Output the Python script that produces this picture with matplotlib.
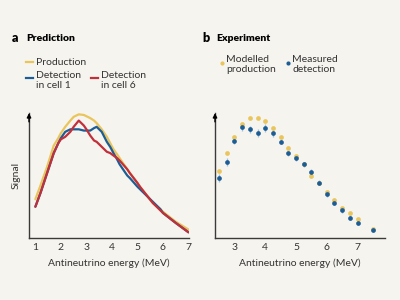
import matplotlib.pyplot as plt

# panel a: predicted spectra
energy_a = [1.0, 1.2, 1.46, 1.72, 1.9, 2.0, 2.17, 2.37, 2.5, 2.7, 2.9, 3.0, 3.15, 3.3, 3.4, 3.6,
            3.8, 3.93, 4.06, 4.2, 4.3, 4.6, 4.7, 5.0, 5.1, 5.6, 5.9, 6.0, 6.5, 7.0]
production = [0.31, 0.42, 0.57, 0.74, 0.80, 0.84, 0.89, 0.94, 0.97, 0.99, 0.985, 0.975, 0.96, 0.94,
              0.92, 0.87, 0.81, 0.76, 0.71, 0.67, 0.64, 0.55, 0.52, 0.44, 0.41, 0.28, 0.23, 0.21, 0.13, 0.067]
cell1 = [0.25, 0.36, 0.52, 0.68, 0.76, 0.80, 0.85, 0.87, 0.87, 0.87, 0.86, 0.86, 0.86, 0.88,
         0.89, 0.85, 0.77, 0.73, 0.68, 0.63, 0.59, 0.50, 0.48, 0.41, 0.39, 0.29, 0.23, 0.20, 0.12, 0.045]
cell6 = [0.25, 0.36, 0.52, 0.68, 0.76, 0.79, 0.81, 0.85, 0.89, 0.94, 0.90, 0.87, 0.82, 0.78,
         0.77, 0.73, 0.69, 0.68, 0.66, 0.64, 0.62, 0.55, 0.52, 0.44, 0.41, 0.28, 0.22, 0.20, 0.12, 0.045]

# panel b: experiment
energy_b = [2.5, 2.75, 3.0, 3.25, 3.5, 3.75, 4.0, 4.25, 4.5, 4.75, 5.0, 5.25, 5.5, 5.75,
            6.0, 6.25, 6.5, 6.75, 7.0, 7.5]
modelled = [0.54, 0.68, 0.81, 0.91, 0.96, 0.96, 0.94, 0.88, 0.81, 0.72, 0.66, 0.59, 0.50, 0.44,
            0.37, 0.30, 0.24, 0.20, 0.15, 0.07]
measured = [0.48, 0.61, 0.78, 0.89, 0.87, 0.84, 0.88, 0.84, 0.77, 0.68, 0.64, 0.59, 0.53, 0.44,
            0.35, 0.28, 0.22, 0.16, 0.12, 0.06]
measured_err = [0.03, 0.03, 0.03, 0.03, 0.03, 0.03, 0.03, 0.03, 0.02, 0.02, 0.02, 0.02, 0.02, 0.02,
                0.02, 0.02, 0.02, 0.02, 0.02, 0.01]

BG = '#f6f4ee'
YEL = '#e9c55c'
BLUE = '#1d5d96'
RED = '#c1303a'
AXC = '#3a3a3a'
TXT = '#333333'
FONT = ['Lato', 'DejaVu Sans']

plt.rcParams['font.family'] = FONT
plt.rcParams['font.size'] = 7.5

fig = plt.figure(figsize=(4, 3), dpi=100, facecolor=BG)
axa = fig.add_axes([0.0725, 0.207, 0.40, 0.416], facecolor=BG)
axb = fig.add_axes([0.5375, 0.207, 0.425, 0.416], facecolor=BG)

axa.plot(energy_a, production, color=YEL, lw=1.6, solid_capstyle='round', solid_joinstyle='round')
axa.plot(energy_a, cell1, color=BLUE, lw=1.6, solid_capstyle='round', solid_joinstyle='round')
axa.plot(energy_a, cell6, color=RED, lw=1.6, solid_capstyle='round', solid_joinstyle='round')
axa.set_xlim(0.75, 7.02)
axa.set_xticks([1, 2, 3, 4, 5, 6, 7])

axb.errorbar(energy_b, measured, yerr=measured_err, fmt='none', ecolor='#9fc0dc', elinewidth=0.9)
axb.plot(energy_b, modelled, 'o', color=YEL, ms=3.4, mec='none')
axb.plot(energy_b, measured, 'o', color=BLUE, ms=3.4, mec='none')
axb.set_xlim(2.37, 7.89)
axb.set_xticks([3, 4, 5, 6, 7])

for ax in (axa, axb):
    ax.set_ylim(0, 1.0)
    ax.set_yticks([])
    for s in ('top', 'right'):
        ax.spines[s].set_visible(False)
    for s in ('left', 'bottom'):
        ax.spines[s].set_color(AXC)
        ax.spines[s].set_linewidth(1.0)
    ax.tick_params(axis='x', length=0, pad=4, labelsize=7.5, colors=TXT)
    ax.set_xlabel('Antineutrino energy (MeV)', fontsize=7.5, color=TXT, labelpad=4)
    ax.annotate('', xy=(0, 1.0), xytext=(0, 0.93), xycoords='axes fraction',
                arrowprops=dict(arrowstyle='-|>', color='black', lw=1.0, mutation_scale=6,
                                shrinkA=0, shrinkB=0))

axa.set_ylabel('Signal', fontsize=7.5, color=TXT, labelpad=6)

# panel titles
fig.text(0.03, 0.873, 'a', fontsize=9, fontweight='heavy', va='center')
fig.text(0.065, 0.873, 'Prediction', fontsize=7.5, fontweight='heavy', va='center')
fig.text(0.505, 0.873, 'b', fontsize=9, fontweight='heavy', va='center')
fig.text(0.54, 0.873, 'Experiment', fontsize=7.5, fontweight='heavy', va='center')

# legend panel a
fig.add_artist(plt.Line2D([0.066, 0.083], [0.793, 0.793], color=YEL, lw=1.6))
fig.text(0.09, 0.793, 'Production', fontsize=7.5, va='center', color=TXT)
fig.add_artist(plt.Line2D([0.066, 0.083], [0.74, 0.74], color=BLUE, lw=1.6))
fig.text(0.09, 0.765, 'Detection\nin cell 1', fontsize=7.5, va='top', color=TXT,
         linespacing=1.2)
fig.add_artist(plt.Line2D([0.228, 0.245], [0.74, 0.74], color=RED, lw=1.6))
fig.text(0.252, 0.765, 'Detection\nin cell 6', fontsize=7.5, va='top', color=TXT,
         linespacing=1.2)

# legend panel b
fig.add_artist(plt.Line2D([0.555], [0.79], marker='o', color=YEL, ms=3, mec='none'))
fig.text(0.566, 0.817, 'Modelled\nproduction', fontsize=7.5, va='top', color=TXT,
         linespacing=1.2)
fig.add_artist(plt.Line2D([0.72], [0.79], marker='o', color=BLUE, ms=3, mec='none'))
fig.text(0.731, 0.817, 'Measured\ndetection', fontsize=7.5, va='top', color=TXT,
         linespacing=1.2)

fig.savefig('out.png', dpi=100, facecolor=BG)
